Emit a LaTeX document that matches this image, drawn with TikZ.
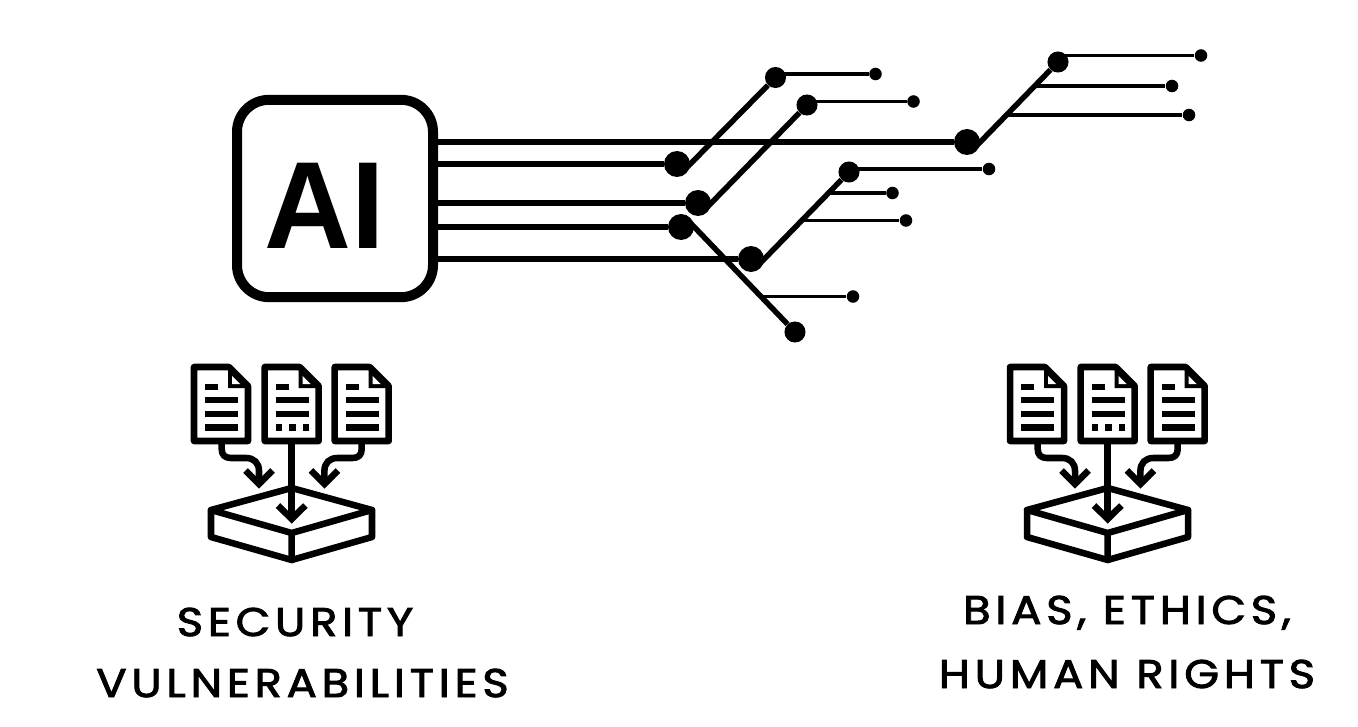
\documentclass[tikz,border=0pt]{standalone}
\usepackage{fontspec}
\setmainfont{Poppins}[FakeBold=2.4,FakeStretch=1.12]
\newfontfamily\aifont{Liberation Sans}[FakeStretch=0.97]
\tikzset{
  x=0.75pt,y=-0.75pt,
  bigdot/.style={circle,fill=black,inner sep=0pt,minimum size=19.5pt},
  meddot/.style={circle,fill=black,inner sep=0pt,minimum size=15.8pt},
  smalldot/.style={circle,fill=black,inner sep=0pt,minimum size=9.4pt},
  bus/.style={line width=5.2pt},
  diag/.style={line width=4.1pt,shorten <=-6pt},
  thinw/.style={line width=2.9pt},
  icon/.style={line width=4.9pt,line join=round,line cap=round},
  bar/.style={fill=black,draw=none},
  lbl/.style={font=\fontsize{30pt}{30pt}\selectfont\addfontfeature{LetterSpace=12},anchor=base,inner sep=0pt}
}
\newcommand{\docicon}[2]{%
  \begin{scope}[shift={(#1,0)}]
    \draw[icon] (194,367) -- (229,367) -- (248,386) -- (248,441) -- (194,441) -- cycle;
    \fill (228,367) -- (249,388) -- (228,388) -- cycle;
    \fill[white] (232,376) -- (240,384) -- (232,384) -- cycle;
    \fill[bar] (205,384) rectangle (218,390);
    \fill[bar] (205,397) rectangle (238,403);
    \fill[bar] (205,411) rectangle (238,417);
    \ifnum#2=0
      \fill[bar] (205,424) rectangle (238,431);
    \else
      \fill[bar] (205,424) rectangle (211,431);
      \fill[bar] (218,424) rectangle (225,431);
      \fill[bar] (232,424) rectangle (238,431);
    \fi
  \end{scope}}
\newcommand{\inboxicon}[1]{%
  \begin{scope}[shift={(#1,0)}]
    \docicon{0}{0}\docicon{70.7}{1}\docicon{140.7}{0}
    \draw[icon,line cap=butt] (221.7,444) -- (221.7,449) .. controls (221.7,455) and (225,458) .. (231,458) -- (246,458) .. controls (254,458) and (259,463) .. (259,471) -- (259,484);
    \draw[icon,line cap=butt,line join=miter] (245.5,470.5) -- (259,484) -- (272.5,470.5);
    \draw[icon,line cap=butt] (361.7,444) -- (361.7,449) .. controls (361.7,455) and (358.4,458) .. (352.4,458) -- (337.4,458) .. controls (329.4,458) and (324.4,463) .. (324.4,471) -- (324.4,484);
    \draw[icon,line cap=butt,line join=miter] (310.9,470.5) -- (324.4,484) -- (337.9,470.5);
    \draw[icon,line cap=butt] (291.7,444) -- (291.7,519);
    \draw[icon,line cap=butt,line join=miter] (278,505.5) -- (291.7,519) -- (305.4,505.5);
    \draw[icon] (291.7,488) -- (372,510) -- (372,537) -- (291.7,560) -- (211,537) -- (211,510) -- cycle;
    \draw[icon] (211,510) -- (291.7,533) -- (372,510) (291.7,533) -- (291.7,560);
  \end{scope}}
\begin{document}
\begin{tikzpicture}
\useasboundingbox (0,0) rectangle (1358,727);
% AI chip
\node[draw,line width=7.5pt,minimum width=147pt,minimum height=148pt,rounded corners=24pt,inner sep=0pt,outer sep=0pt] (chip) at (335,198.5) {};
\node[font=\fontsize{93pt}{93pt}\selectfont\aifont\bfseries,anchor=base,inner sep=0pt] (ai) at (324.5,248) {AI};
% dots
\node[bigdot] (a1) at (677,164) {};
\node[bigdot] (a2) at (698,203) {};
\node[bigdot] (a3) at (681,227) {};
\node[bigdot] (a4) at (751,259) {};
\node[bigdot] (a5) at (967,142) {};
\node[meddot] (b1) at (775.5,77.5) {};
\node[meddot] (b2) at (807,105) {};
\node[meddot] (b3) at (795,332) {};
\node[meddot] (b4) at (849,172) {};
\node[meddot] (b5) at (1058,62) {};
\node[smalldot] (c1) at (875.5,74) {};
\node[smalldot] (c2) at (913.5,101.5) {};
\node[smalldot] (c3) at (989,169) {};
\node[smalldot] (c4) at (892.5,193) {};
\node[smalldot] (c5) at (906,220.5) {};
\node[smalldot] (c6) at (853,296.5) {};
\node[smalldot] (c7) at (1201,55.5) {};
\node[smalldot] (c8) at (1172,86) {};
\node[smalldot] (c9) at (1189,115) {};
% free ends
\coordinate (s1) at (438,142);
\coordinate (s2) at (438,164);
\coordinate (s3) at (438,203);
\coordinate (s4) at (438,227);
\coordinate (s5) at (438,259);
\coordinate (t1) at (775.5,74);
\coordinate (t2) at (807,101.5);
\coordinate (t3) at (849,169);
\coordinate (t4) at (829,193);
\coordinate (t5) at (802,220.5);
\coordinate (t6) at (761,296.5);
\coordinate (t7) at (1058,55.5);
\coordinate (t8) at (1035,86);
\coordinate (t9) at (1006,115);
% buses
\draw[bus] (s1) -- (a5);
\draw[bus] (s2) -- (a1);
\draw[bus] (s3) -- (a2);
\draw[bus] (s4) -- (a3);
\draw[bus] (s5) -- (a4);
% diagonals
\draw[diag] (a1.east) -- (b1);
\draw[diag] (a2.east) -- (b2);
\draw[diag] (a3.east) -- (b3);
\draw[diag] (a4.east) -- (b4);
\draw[diag] (a5.east) -- (b5);
% thin branches
\draw[thinw] (t1) -- (c1);
\draw[thinw] (t2) -- (c2);
\draw[thinw] (t3) -- (c3);
\draw[thinw] (t4) -- (c4);
\draw[thinw] (t5) -- (c5);
\draw[thinw] (t6) -- (c6);
\draw[thinw] (t7) -- (c7);
\draw[thinw] (t8) -- (c8);
\draw[thinw] (t9) -- (c9);
% icons
\inboxicon{0}
\inboxicon{816}
% labels
\node[lbl] (l1) at (295,636) {SECURITY};
\node[lbl] (l2) at (302.5,697) {VULNERABILITIES};
\node[lbl] (l3) at (1127,624) {BIAS, ETHICS,};
\node[lbl] (l4) at (1127,688) {HUMAN RIGHTS};
\end{tikzpicture}
\end{document}
